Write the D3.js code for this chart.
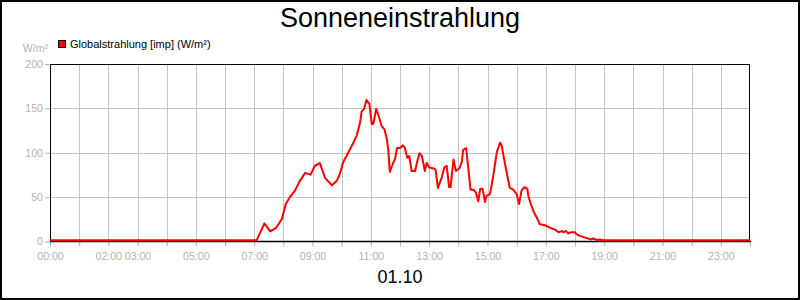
<!DOCTYPE html>
<html>
<head>
<meta charset="utf-8">
<script src="https://cdn.jsdelivr.net/npm/d3@7/dist/d3.min.js"></script>
<style>
  html, body { margin: 0; padding: 0; background: #fff; }
  svg { display: block; font-family: "Liberation Sans", Arial, sans-serif; }
</style>
</head>
<body>
<svg id="chart" width="800" height="300"></svg>
<script>
// ---- data ----
const title = "Sonneneinstrahlung";
const dateLabel = "01.10";
const seriesName = "Globalstrahlung [imp] (W/m²)";
const unitLabel = "W/m²";
const yTicks = [0, 50, 100, 150, 200];
const xTickLabels = ["00:00", "02:00", "03:00", "05:00", "07:00", "09:00", "11:00", "13:00", "15:00", "17:00", "19:00", "21:00", "23:00"];
const times = [
  "00:00","07:05","07:21","07:33","07:45","07:57","08:05","08:14","08:24","08:34","08:45","08:56",
  "09:05","09:15","09:26","09:40","09:50","09:57","10:03","10:10","10:24","10:31","10:38","10:41",
  "10:46","10:51","10:57","11:02","11:05","11:11","11:15","11:22","11:28","11:33","11:36","11:39",
  "11:45","11:50","11:54","12:00","12:06","12:10","12:15","12:19","12:24","12:31","12:36","12:40",
  "12:45","12:48","12:51","12:55","13:00","13:09","13:13","13:18","13:26","13:31","13:36","13:41",
  "13:44","13:50","13:55","14:02","14:07","14:10","14:16","14:20","14:25","14:31","14:36","14:41",
  "14:45","14:50","14:55","14:58","15:05","15:12","15:19","15:26","15:29","15:34","15:40","15:46",
  "15:53","16:00","16:05","16:10","16:16","16:22","16:24","16:29","16:36","16:41","16:48","16:58",
  "17:09","17:19","17:26","17:33","17:36","17:41","17:46","17:53","18:00","18:03","18:10","18:21",
  "18:27","18:34","18:38","18:45","18:51","18:58","24:00"
];
const values = [
  0,0,19,10,14,24,41,49,56,67,76,74,
  84,87,70,62,67,76,88,95,110,118,133,145,
  148,158,154,131,131,148,142,129,125,114,101,77,
  86,92,104,104,107,104,93,95,78,78,90,98,
  95,87,78,87,82,81,80,59,71,82,84,60,
  60,91,78,81,88,102,104,84,57,57,54,44,
  58,58,43,50,52,73,99,110,107,92,75,59,
  57,52,41,56,60,58,50,41,31,26,18,17,
  14,12,9,10.5,9,10.5,8,9,9,7,5,3,
  2,1,2,0.3,1,0,0
];

// ---- layout ----
const svg = d3.select("#chart");
const L = 50, R = 750, T = 64, B = 241.5;
const gray = "#b4b4b4", grid = "#c4c4c4";
const FONT = "'Liberation Sans', Arial, sans-serif";

const toHours = s => { const [h, m] = s.split(":").map(Number); return h + m / 60; };
const data = times.map((t, i) => ({ t: toHours(t), v: values[i] }));

const x = d3.scaleLinear().domain([0, 24]).range([L, R]);
const y = d3.scaleLinear().domain([0, 200]).range([B, T]);

// outer frame
svg.append("rect").attr("x", 1).attr("y", 1).attr("width", 798).attr("height", 298)
  .attr("fill", "#fff").attr("stroke", "#000").attr("stroke-width", 2);

// grid
const hours = d3.range(1, 24);
svg.append("g").selectAll("line").data(hours).join("line")
  .attr("x1", d => Math.round(x(d)) + 0.5).attr("x2", d => Math.round(x(d)) + 0.5)
  .attr("y1", T).attr("y2", B).attr("stroke", grid).attr("stroke-width", 1);
svg.append("g").selectAll("line").data([50, 100, 150]).join("line")
  .attr("x1", L).attr("x2", R)
  .attr("y1", d => Math.round(y(d)) + 0.5).attr("y2", d => Math.round(y(d)) + 0.5)
  .attr("stroke", grid).attr("stroke-width", 1);

// x axis (ticks + labels)
const xAxis = d3.axisBottom(x)
  .tickValues(d3.range(0, 25))
  .tickSize(5).tickSizeOuter(0)
  .tickFormat(d => { const s = String(d).padStart(2, "0") + ":00"; return xTickLabels.includes(s) ? s : ""; });
const gx = svg.append("g").attr("transform", `translate(0,${B})`).call(xAxis);
gx.select(".domain").remove();
gx.selectAll(".tick line").attr("stroke", gray);
gx.selectAll(".tick text").attr("fill", gray).attr("font-size", 10.6).attr("dy", "0.95em")
  .attr("font-family", FONT);

// y axis
const yAxis = d3.axisLeft(y).tickValues(yTicks).tickSize(5).tickSizeOuter(0).tickPadding(2);
const gy = svg.append("g").attr("transform", `translate(${L},0)`).call(yAxis);
gy.select(".domain").remove();
gy.selectAll(".tick line").attr("stroke", gray);
gy.selectAll(".tick text").attr("fill", gray).attr("font-size", 10.6)
  .attr("font-family", FONT);

// plot frame
svg.append("rect").attr("x", L + 0.5).attr("y", T + 0.5).attr("width", R - L - 1).attr("height", B - T - 0.5)
  .attr("fill", "none").attr("stroke", "#000").attr("stroke-width", 1);
svg.append("line").attr("x1", L).attr("x2", R + 1).attr("y1", B).attr("y2", B)
  .attr("stroke", "#000").attr("stroke-width", 1.5);

// line
const line = d3.line().x(d => x(d.t)).y(d => y(d.v) - 1.2).curve(d3.curveLinear);
svg.append("path").datum(data).attr("d", line)
  .attr("fill", "none").attr("stroke", "#ff0000").attr("stroke-width", 2)
  .attr("stroke-linejoin", "round");

// unit label
svg.append("text").attr("x", 48).attr("y", 52).attr("text-anchor", "end")
  .attr("fill", gray).attr("font-size", 10.6).text(unitLabel);

// legend
svg.append("rect").attr("x", 58.5).attr("y", 40.5).attr("width", 7).attr("height", 7)
  .attr("fill", "#ff0000").attr("stroke", "#000").attr("stroke-width", 1);
svg.append("text").attr("x", 70).attr("y", 48).attr("fill", "#000").attr("font-size", 11).text(seriesName);

// title
svg.append("text").attr("x", 400).attr("y", 27).attr("text-anchor", "middle")
  .attr("fill", "#000").attr("font-size", 27).text(title);

// date label
svg.append("text").attr("x", 400).attr("y", 283).attr("text-anchor", "middle")
  .attr("fill", "#000").attr("font-size", 18).text(dateLabel);
</script>
</body>
</html>
